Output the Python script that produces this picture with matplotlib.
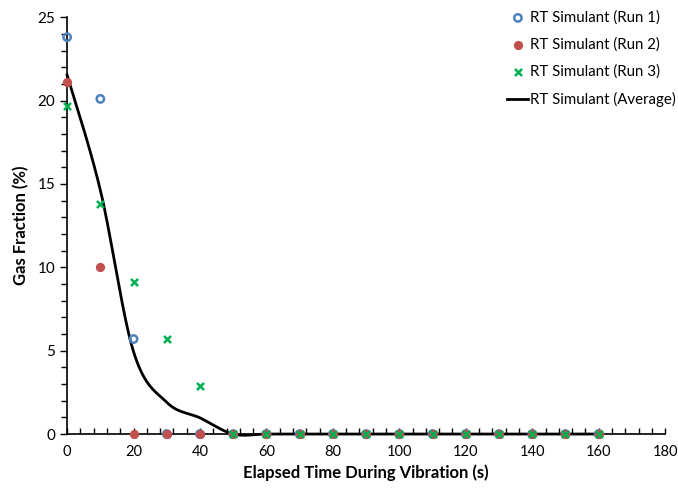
import numpy as np
import matplotlib
matplotlib.use("Agg")
import matplotlib.pyplot as plt
from matplotlib.ticker import MultipleLocator

# Data
time_s = [0, 10, 20, 30, 40, 50, 60, 70, 80, 90, 100, 110, 120, 130, 140, 150, 160]
run1 = [23.8, 20.1, 5.7, 0, 0, 0, 0, 0, 0, 0, 0, 0, 0, 0, 0, 0, 0]
run2 = [21.1, 10.0, 0, 0, 0, 0, 0, 0, 0, 0, 0, 0, 0, 0, 0, 0, 0]
run3 = [19.7, 13.8, 9.1, 5.7, 2.9, 0, 0, 0, 0, 0, 0, 0, 0, 0, 0, 0, 0]
average = [21.53, 14.63, 4.93, 1.9, 0.97, 0, 0, 0, 0, 0, 0, 0, 0, 0, 0, 0, 0]


def smooth_curve(x, y, n=30):
    # Excel-like smoothed line: cubic Bezier through points, Catmull-Rom handles
    x = np.asarray(x, float)
    y = np.asarray(y, float)
    px, py = [], []
    for i in range(len(x) - 1):
        i0 = max(i - 1, 0)
        i3 = min(i + 2, len(x) - 1)
        c1x = x[i] + (x[i + 1] - x[i0]) / 6
        c1y = y[i] + (y[i + 1] - y[i0]) / 6
        c2x = x[i + 1] - (x[i3] - x[i]) / 6
        c2y = y[i + 1] - (y[i3] - y[i]) / 6
        t = np.linspace(0, 1, n)
        bx = (1 - t) ** 3 * x[i] + 3 * (1 - t) ** 2 * t * c1x + 3 * (1 - t) * t ** 2 * c2x + t ** 3 * x[i + 1]
        by = (1 - t) ** 3 * y[i] + 3 * (1 - t) ** 2 * t * c1y + 3 * (1 - t) * t ** 2 * c2y + t ** 3 * y[i + 1]
        px.extend(bx)
        py.extend(by)
    return px, py


plt.rcParams['font.family'] = ['Lato', 'DejaVu Sans']

fig = plt.figure(figsize=(6.78, 4.91), dpi=100)
ax = fig.add_axes([0.099, 0.116, 0.882, 0.849])

sx, sy = smooth_curve(time_s, average)
ax.plot(sx, sy, color="black", lw=2, label="RT Simulant (Average)", zorder=2, clip_on=False)
ax.scatter(time_s, run1, s=28, facecolors="none", edgecolors="#4F81BD", linewidths=1.8,
           label="RT Simulant (Run 1)", zorder=3, clip_on=False)
ax.scatter(time_s, run2, s=32, color="#C0504D", label="RT Simulant (Run 2)", zorder=4, clip_on=False)
ax.scatter(time_s, run3, s=26, marker="x", color="#00B050", linewidths=1.8,
           label="RT Simulant (Run 3)", zorder=5, clip_on=False)

ax.set_xlim(0, 180)
ax.set_ylim(0, 25)
ax.xaxis.set_major_locator(MultipleLocator(20))
ax.xaxis.set_minor_locator(MultipleLocator(4))
ax.yaxis.set_major_locator(MultipleLocator(5))
ax.yaxis.set_minor_locator(MultipleLocator(1))
ax.tick_params(axis="y", which="both", direction="out", length=5, width=1, labelsize=11)
ax.tick_params(axis="y", which="minor", length=4)
ax.tick_params(axis="x", which="both", direction="in", length=4, width=1, labelsize=10.5, pad=8)
for side in ["top", "right"]:
    ax.spines[side].set_visible(False)
for side in ["left", "bottom"]:
    ax.spines[side].set_linewidth(1.2)

ax.set_xlabel("Elapsed Time During Vibration (s)", fontsize=12, fontweight="bold", labelpad=4)
ax.set_ylabel("Gas Fraction (%)", fontsize=12, fontweight="bold", labelpad=6)

handles, labels = ax.get_legend_handles_labels()
order = [1, 2, 3, 0]
ax.legend([handles[i] for i in order], [labels[i] for i in order], loc="upper right",
          bbox_to_anchor=(1.012, 1.0), bbox_transform=fig.transFigure, borderaxespad=0.3,
          frameon=False, fontsize=10.8, handlelength=1.4,
          handletextpad=0.1, labelspacing=0.85, markerfirst=True)

fig.savefig("out.png", dpi=100)
